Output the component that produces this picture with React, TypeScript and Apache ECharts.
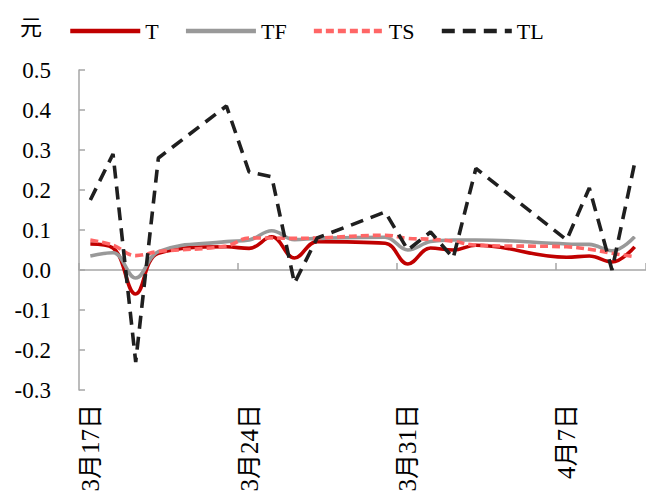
import React, { useEffect, useRef } from "react";
import * as echarts from "echarts";

// Calendar days on the x axis (trading days carry values, the rest are gaps)
const categories = [
  "3月17日", "3月18日", "3月19日", "3月20日", "3月21日", "3月22日", "3月23日",
  "3月24日", "3月25日", "3月26日", "3月27日", "3月28日", "3月29日", "3月30日",
  "3月31日", "4月1日", "4月2日", "4月3日", "4月4日", "4月5日", "4月6日",
  "4月7日", "4月8日", "4月9日", "4月10日",
];

const seriesT = [
  0.065, 0.055, -0.06, 0.042, null, null, 0.058,
  0.054, 0.083, 0.03, 0.071, null, null, 0.067,
  0.015, 0.055, 0.05, 0.062, null, null, null,
  0.032, 0.035, 0.02, 0.058,
];

const seriesTF = [
  0.035, 0.043, -0.02, 0.046, null, null, 0.071,
  0.075, 0.098, 0.076, 0.079, null, null, 0.082,
  0.05, 0.071, 0.075, 0.075, null, null, null,
  0.065, 0.064, 0.048, 0.083,
];

const seriesTS = [
  0.075, 0.062, 0.036, 0.046, null, null, 0.06,
  0.08, 0.08, 0.079, 0.08, null, null, 0.087,
  0.079, 0.077, 0.072, 0.062, null, null, null,
  0.058, 0.052, 0.042, 0.033,
];

const seriesTL = [
  0.175, 0.29, -0.23, 0.28, null, null, 0.41,
  0.245, 0.233, -0.033, 0.08, null, null, 0.145,
  0.05, 0.095, 0.03, 0.254, null, null, null,
  0.075, 0.205, 0.0, 0.267,
];

const yMin = -0.3;
const yMax = 0.5;
const yStep = 0.1;

const serif = "Liberation Serif, Noto Sans CJK SC, serif";
const axisGray = "#A6A6A6";
const weekly = (index: number) => index % 7 === 0;

export default function App() {
  const ref = useRef<HTMLDivElement>(null);

  useEffect(() => {
    if (!ref.current) return;
    const chart = echarts.init(ref.current, null, { renderer: "svg" });

    const lineSeries = (
      name: string,
      data: (number | null)[],
      color: string,
      type: any,
      smooth: boolean | number
    ) => ({
      name,
      type: "line",
      xAxisIndex: 0,
      data,
      smooth,
      connectNulls: true,
      symbol: "none",
      lineStyle: { color, width: 3.6, type, cap: "butt" },
      itemStyle: { color },
    });

    chart.setOption({
      animation: false,
      backgroundColor: "#ffffff",
      graphic: [
        {
          type: "text",
          left: 20,
          top: 14,
          style: {
            text: "元",
            font: "22px 'Noto Sans CJK SC'",
            fill: "#000",
          },
        },
      ],
      legend: {
        left: 63,
        top: 15,
        itemWidth: 70,
        itemHeight: 2,
        itemGap: 25,
        itemStyle: { opacity: 0 },
        lineStyle: { width: 4.5 },
        textStyle: { fontFamily: serif, fontSize: 22, color: "#000" },
        data: ["T", "TF", "TS", "TL"],
      },
      grid: { left: 79, right: -3, top: 70, bottom: 109 },
      xAxis: [
        {
          type: "category",
          data: categories,
          boundaryGap: true,
          position: "bottom",
          axisLine: { show: true, onZero: true, lineStyle: { color: axisGray, width: 1.5 } },
          axisTick: { show: true, inside: true, length: 7, interval: weekly, lineStyle: { color: axisGray, width: 1.5 } },
          axisLabel: { show: false },
          splitLine: { show: false },
        },
        {
          type: "category",
          data: categories,
          boundaryGap: true,
          position: "bottom",
          axisLine: { show: false, onZero: false },
          axisTick: { show: false },
          axisLabel: {
            show: true,
            rotate: 90,
            margin: 14,
            interval: weekly,
            fontFamily: serif,
            fontSize: 25,
            color: "#000",
          },
          splitLine: { show: false },
        },
      ],
      yAxis: {
        type: "value",
        min: yMin,
        max: yMax,
        interval: yStep,
        axisLine: { show: true, lineStyle: { color: axisGray, width: 1.5 } },
        axisTick: { show: true, inside: true, length: 6, lineStyle: { color: axisGray, width: 1.5 } },
        axisLabel: {
          margin: 28,
          fontFamily: serif,
          fontSize: 23,
          color: "#000",
          formatter: (v: number) => v.toFixed(1),
        },
        splitLine: { show: false },
      },
      series: [
        lineSeries("T", seriesT, "#C00000", "solid", 0.4),
        lineSeries("TF", seriesTF, "#999999", "solid", 0.4),
        lineSeries("TS", seriesTS, "#FF6666", [8, 4], 0.4),
        lineSeries("TL", seriesTL, "#1F1F1F", [13, 8], false),
      ],
    });

    return () => chart.dispose();
  }, []);

  return (
    <div
      ref={ref}
      style={{ position: "fixed", left: 0, top: 0, width: 646, height: 499, background: "#fff" }}
    />
  );
}
